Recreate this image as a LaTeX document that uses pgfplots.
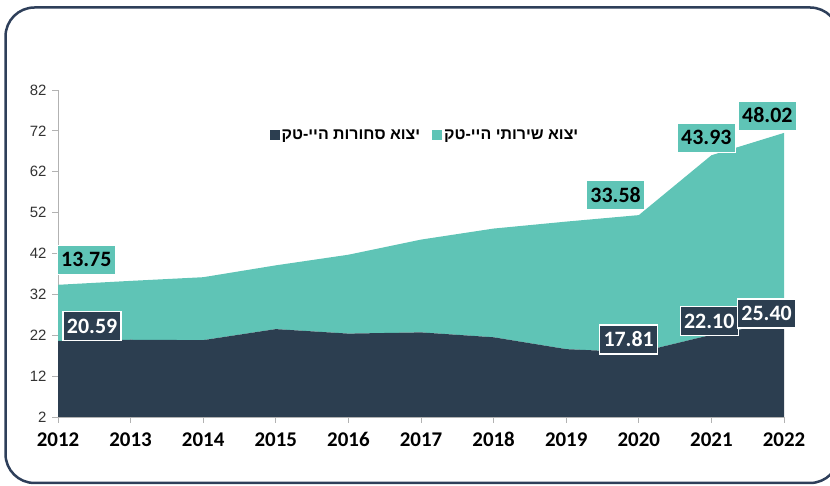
\documentclass[border=0pt]{standalone}
\usepackage{pgfplots}
\pgfplotsset{compat=1.18}
\usepackage{fontspec}
\setmainfont{Carlito}
\newfontfamily\hebfont[Script=Hebrew]{Liberation Sans}
\newfontfamily\arialfont{Liberation Sans}
\TeXXeTstate=1
\definecolor{navy}{HTML}{2C3E50}
\definecolor{tealc}{HTML}{5FC4B6}
\definecolor{framec}{HTML}{2E3F5A}

\pgfplotstableread{
year goods services
2012 20.59 13.75
2013 20.90 14.40
2014 20.80 15.40
2015 23.50 15.60
2016 22.40 19.30
2017 22.70 22.70
2018 21.50 26.60
2019 18.60 31.20
2020 17.81 33.58
2021 22.10 43.93
2022 25.40 46.10
}\hitech

\tikzset{
  lbldark/.style={fill=navy, draw=white, line width=1.4bp, text=white,
    font=\bfseries\fontsize{22}{22}\selectfont, minimum width=58bp, minimum height=29bp, inner sep=1bp},
  lblteal/.style={fill=tealc, draw=white, line width=0.8bp, text=black,
    font=\bfseries\fontsize{22}{22}\selectfont, minimum width=58bp, minimum height=29bp, inner sep=1bp}
}

\begin{document}
\begin{tikzpicture}[x=1bp,y=1bp]
\draw[framec, line width=2.5bp, rounded corners=29bp] (5.5,3) rectangle (839,478.5);
\begin{axis}[
  at={(58bp,69bp)}, anchor=south west,
  scale only axis, width=726bp, height=327bp,
  xmin=2012, xmax=2022, ymin=2, ymax=82,
  axis lines*=left,
  axis line style={draw=black!30, line width=0.8bp},
  tick style={draw=black!30, line width=0.8bp},
  tick align=outside, major tick length=6bp,
  xtick={2012,2013,...,2022},
  xticklabels={2012,2013,2014,2015,2016,2017,2018,2019,2020,2021,2022},
  ytick={2,12,...,82},
  /pgf/number format/assume math mode=true,
  xticklabel style={font=\bfseries\fontsize{21}{21}\selectfont, text=black, yshift=-6bp},
  yticklabel style={font=\arialfont\fontsize{15}{15}\selectfont, text=black!80, xshift=-2bp},
  stack plots=y,
  clip=false,
  legend columns=2,
  legend cell align=left,
  legend style={at={(0.5055,0.862)}, anchor=center, draw=none, fill=none,
    font=\hebfont\bfseries\fontsize{16}{16}\selectfont,
    /tikz/every even column/.append style={column sep=10bp}},
  legend image code/.code={\fill[#1] (0bp,-5bp) rectangle (10bp,5bp);},
]
\addplot[fill=navy, draw=none] table[x=year, y=goods] {\hitech} \closedcycle;
\addlegendentry{\beginR יצוא סחורות היי-טק\endR}
\addplot[fill=tealc, draw=none] table[x=year, y=services] {\hitech} \closedcycle;
\addlegendentry{\beginR יצוא שירותי היי-טק\endR}

\coordinate (t1) at (axis cs:2012.39,40.5);
\coordinate (d1) at (axis cs:2012.47,24.26);
\coordinate (t2) at (axis cs:2019.68,56.3);
\coordinate (t3) at (axis cs:2020.93,70.4);
\coordinate (t4) at (axis cs:2021.77,75.76);
\coordinate (d2) at (axis cs:2019.86,20.96);
\coordinate (d3) at (axis cs:2020.97,25.5);
\coordinate (d4) at (axis cs:2021.76,27.3);
\end{axis}
\node[lblteal] at (t1) {13.75};
\node[lbldark] at (d1) {20.59};
\node[lblteal] at (t2) {33.58};
\node[lblteal] at (t3) {43.93};
\node[lblteal] at (t4) {48.02};
\node[lbldark] at (d2) {17.81};
\node[lbldark] at (d3) {22.10};
\node[lbldark] at (d4) {25.40};
\pgfresetboundingbox
\path[use as bounding box] (0,0) rectangle (830,486);
\end{tikzpicture}
\end{document}
